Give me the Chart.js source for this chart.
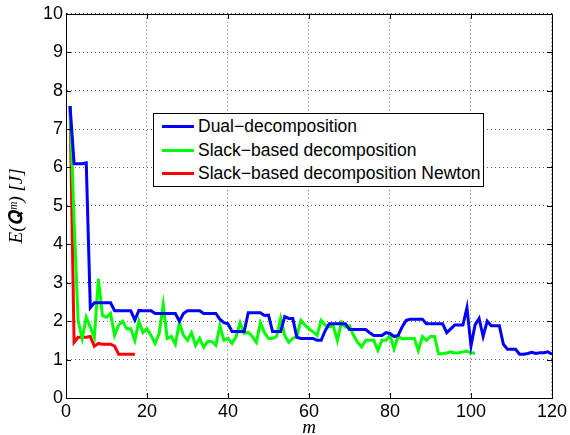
<!DOCTYPE html>
<html><head><meta charset="utf-8">
<script src="https://cdn.jsdelivr.net/npm/chart.js@4.4.1/dist/chart.umd.min.js"></script>
<style>
html,body{margin:0;padding:0;background:#fff;}
#wrap{position:relative;width:570px;height:435px;}
#legend{position:absolute;left:153px;top:113px;width:331px;height:74px;border:1px solid #000;background:#fff;box-sizing:border-box;font-family:"Liberation Sans",Arial,sans-serif;font-size:17.5px;color:#000;}
.row{position:absolute;left:0;height:20px;line-height:20px;white-space:nowrap;}
.sw{position:absolute;left:8px;top:9px;width:32px;height:3px;}
.lt{position:absolute;left:44px;top:0;}
</style></head>
<body><div id="wrap"><canvas id="c" width="570" height="435"></canvas>
<div id="legend"></div></div>
<script>
const seriesNames = ["Dual\u2212decomposition","Slack\u2212based decomposition","Slack\u2212based decomposition Newton"];
const dualValues = [7.6,6.1,6.1,6.1,6.12,2.35,2.48,2.48,2.48,2.48,2.48,2.27,2.27,2.27,2.27,2.27,2.03,2.28,2.27,2.27,
2.27,2.2,2.2,2.2,2.2,2.2,2.2,2.0,2.2,2.27,2.27,2.27,2.27,2.2,2.2,2.2,2.2,2.05,1.96,1.93,
1.73,1.73,1.73,1.73,2.22,2.22,2.22,2.22,2.15,2.16,1.73,1.73,1.73,2.12,2.07,2.07,1.58,1.55,1.55,1.55,
1.55,1.5,1.5,1.75,1.93,1.93,1.93,1.93,1.93,1.78,1.78,1.78,1.78,1.78,1.7,1.63,1.63,1.63,1.7,1.68,
1.6,1.63,1.85,2.02,2.05,2.05,2.05,2.05,1.93,1.93,1.93,1.93,1.93,1.7,1.8,1.9,1.9,1.9,2.35,1.35,
1.9,2.07,1.6,2.0,1.88,1.88,1.88,1.4,1.27,1.27,1.27,1.14,1.14,1.16,1.19,1.16,1.18,1.18,1.2,1.14];
const slackValues = [7.6,4.6,2.0,1.55,2.1,1.84,1.58,3.1,2.15,2.1,2.2,1.63,1.9,2.0,1.8,1.8,1.5,2.0,1.7,1.8,
1.63,1.42,1.68,2.43,1.55,1.6,1.4,1.96,1.63,1.5,1.7,1.37,1.55,1.32,1.47,1.47,1.37,1.88,1.5,1.55,
1.42,1.6,1.96,1.68,1.71,1.6,1.45,1.96,1.7,1.55,1.55,1.6,2.07,1.63,1.45,1.55,1.6,2.02,1.9,1.8,
1.72,1.63,2.02,1.9,1.85,1.88,1.5,1.97,1.85,1.88,1.63,1.45,1.33,1.5,1.5,1.5,1.24,1.5,1.5,1.63,
1.28,1.6,1.54,1.55,1.55,1.55,1.24,1.6,1.5,1.6,1.6,1.15,1.15,1.17,1.2,1.17,1.18,1.2,1.22,1.17,1.17];
const newtonValues = [7.6,1.45,1.58,1.58,1.58,1.6,1.35,1.42,1.4,1.4,1.4,1.35,1.14,1.14,1.14,1.14,1.14];
const xTicks = [0,20,40,60,80,100,120];
const yTicks = [0,1,2,3,4,5,6,7,8,9,10];
const colors = ["#0000ff","#00ff00","#ff0000"];

const toPts = v => v.map((y,i)=>({x:i+1,y:y}));
const allSeries = [dualValues, slackValues, newtonValues];

const leg = document.getElementById('legend');
seriesNames.forEach((n,i)=>{
  const r=document.createElement('div'); r.className='row'; r.style.top=(2+i*23.5)+'px'; r.style.width='100%';
  r.innerHTML='<span class="sw" style="background:'+colors[i]+'"></span><span class="lt">'+n+'</span>';
  leg.appendChild(r);
});

const boxPlugin = {
  id:'box',
  afterDraw(chart){
    const {ctx, chartArea:a, scales} = chart;
    ctx.save();
    ctx.strokeStyle='#000'; ctx.lineWidth=1;
    ctx.strokeRect(Math.round(a.left)+0.5, Math.round(a.top)+0.5, Math.round(a.right-a.left), Math.round(a.bottom-a.top));
    const L=5;
    ctx.beginPath();
    xTicks.forEach(t=>{const x=Math.round(scales.x.getPixelForValue(t))+0.5;
      ctx.moveTo(x,a.bottom);ctx.lineTo(x,a.bottom-L);ctx.moveTo(x,a.top);ctx.lineTo(x,a.top+L);});
    yTicks.forEach(t=>{const y=Math.round(scales.y.getPixelForValue(t))+0.5;
      ctx.moveTo(a.left,y);ctx.lineTo(a.left+L,y);ctx.moveTo(a.right,y);ctx.lineTo(a.right-L,y);});
    ctx.stroke();
    ctx.restore();
  }
};

new Chart(document.getElementById('c'),{
  type:'line',
  data:{datasets: allSeries.map((v,i)=>({label:seriesNames[i],data:toPts(v),borderColor:colors[i],backgroundColor:colors[i],borderWidth:3,pointRadius:0,tension:0,fill:false}))},
  options:{
    responsive:false,animation:false,
    layout:{padding:{top:11,right:15,left:0,bottom:0}},
    plugins:{legend:{display:false},tooltip:{enabled:false}},
    scales:{
      x:{type:'linear',min:0,max:120,
        afterBuildTicks:s=>{s.ticks=xTicks.map(v=>({value:v}));},
        afterFit:s=>{s.height=37;},
        grid:{color:'rgba(0,0,0,0.6)',lineWidth:1,drawTicks:false,tickLength:0},
        border:{display:true,color:'#000',dash:[1,3]},
        ticks:{font:{family:'"Liberation Sans",Arial,sans-serif',size:18},color:'#000',padding:3,maxRotation:0},
        title:{display:true,text:'m',font:{family:'"Liberation Serif",serif',size:19,style:'italic'},color:'#000',padding:{top:0,bottom:-4}}
      },
      y:{type:'linear',min:0,max:10,
        afterBuildTicks:s=>{s.ticks=yTicks.map(v=>({value:v}));},
        afterFit:s=>{s.width=66;},
        grid:{color:'rgba(0,0,0,0.6)',lineWidth:1,drawTicks:false,tickLength:0},
        border:{display:true,color:'#000',dash:[1,3]},
        ticks:{font:{family:'"Liberation Sans",Arial,sans-serif',size:18},color:'#000',padding:3},
        title:{display:true,text:'E(\uD835\uDC10\u1D50) [J]',font:{family:'"Liberation Serif",serif',size:19,style:'italic'},color:'#000',padding:{top:6,bottom:0}}
      }
    }
  },
  plugins:[boxPlugin]
});
</script></body></html>
